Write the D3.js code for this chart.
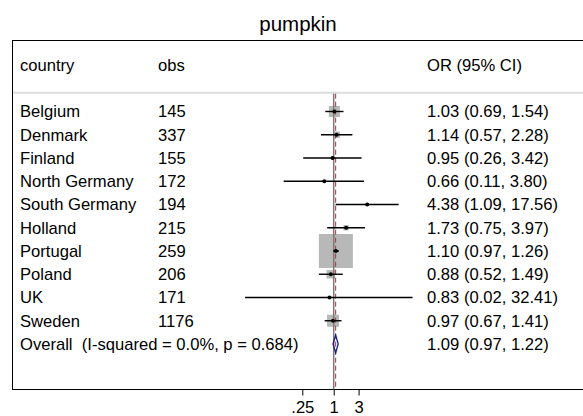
<!DOCTYPE html>
<html>
<head>
<meta charset="utf-8">
<script src="https://cdn.jsdelivr.net/npm/d3@7"></script>
<style>
  body { margin: 0; background: #fff; }
  text { font-family: "Liberation Sans", Arial, Helvetica, sans-serif; white-space: pre; }
</style>
</head>
<body>
<div id="chart"></div>
<script>
const countries = ["Belgium", "Denmark", "Finland", "North Germany", "South Germany",
    "Holland", "Portugal", "Poland", "UK", "Sweden"];
const obs = [145, 337, 155, 172, 194, 215, 259, 206, 171, 1176];
const or = [1.03, 1.14, 0.95, 0.66, 4.38, 1.73, 1.10, 0.88, 0.83, 0.97];
const lower = [0.69, 0.57, 0.26, 0.11, 1.09, 0.75, 0.97, 0.52, 0.02, 0.67];
const upper = [1.54, 2.28, 3.42, 3.80, 17.56, 3.97, 1.26, 1.49, 32.41, 1.41];
const weights = [7.7, 2.6, 0.7, 0.4, 0.6, 1.8, 72.7, 4.5, 0.1, 9.0];
const overall = { label: "Overall  (I-squared = 0.0%, p = 0.684)", or: 1.09, lower: 0.97, upper: 1.22 };
const tickValues = [0.25, 1, 3];
const tickLabels = [".25", "1", "3"];

const W = 583, H = 416;
const box = { left: 12.5, top: 40.5, bottom: 389.5 };
const rowTop = 111.5, rowStep = 23.25;
const sepY = 92.7;
const fs = "16.6px";
const col = { country: 20, obs: 158, est: 427 };

const svg = d3.select("#chart").append("svg")
    .attr("width", W).attr("height", H);

const x = d3.scaleLog().domain([0.25, 3]).range([302.3, 358.6]);
const y = d3.scaleLinear().domain([0, 1]).range([rowTop, rowTop + rowStep]);
const size = d3.scaleSqrt().domain([0, 72.7]).range([0, 34]);

const fmt = d3.format(".2f");
const rows = countries.map((c, i) => ({
    country: c, obs: obs[i], or: or[i], lo: lower[i], hi: upper[i], w: weights[i], i
}));

// title
svg.append("text")
    .attr("x", 298).attr("y", 31)
    .attr("text-anchor", "middle")
    .style("font-size", "20.5px")
    .text("pumpkin");

// frame
svg.append("rect")
    .attr("x", box.left).attr("y", box.top)
    .attr("width", W + 10 - box.left).attr("height", box.bottom - box.top)
    .attr("fill", "none").attr("stroke", "#000").attr("stroke-width", 1);

// header separator
svg.append("line")
    .attr("x1", box.left + 0.5).attr("x2", W)
    .attr("y1", sepY).attr("y2", sepY)
    .attr("stroke", "#dcdcdc").attr("stroke-width", 2);

// headers
const head = svg.append("g").style("font-size", fs);
head.append("text").attr("x", col.country).attr("y", 70.5).text("country");
head.append("text").attr("x", col.obs).attr("y", 70.5).text("obs");
head.append("text").attr("x", col.est).attr("y", 70.5).text("OR (95% CI)");

// weight boxes
svg.selectAll("rect.wt")
    .data(rows)
    .enter().append("rect")
    .attr("class", "wt")
    .attr("x", d => x(d.or) - size(d.w) / 2)
    .attr("y", d => y(d.i) - size(d.w) / 2)
    .attr("width", d => size(d.w))
    .attr("height", d => size(d.w))
    .attr("fill", "#b8b8b8");

// null line
svg.append("line")
    .attr("x1", x(1)).attr("x2", x(1))
    .attr("y1", sepY + 1).attr("y2", box.bottom)
    .attr("stroke", "#7a7a7a").attr("stroke-width", 1.5);

// overall effect line
svg.append("line")
    .attr("x1", x(overall.or)).attr("x2", x(overall.or))
    .attr("y1", sepY + 1).attr("y2", box.bottom)
    .attr("stroke", "#a8323c").attr("stroke-width", 1)
    .attr("stroke-dasharray", "5,3");

// confidence intervals
svg.selectAll("line.ci")
    .data(rows)
    .enter().append("line")
    .attr("class", "ci")
    .attr("x1", d => x(d.lo)).attr("x2", d => x(d.hi))
    .attr("y1", d => y(d.i)).attr("y2", d => y(d.i))
    .attr("stroke", "#000").attr("stroke-width", 1.4);

// point estimates
svg.selectAll("circle.pt")
    .data(rows)
    .enter().append("circle")
    .attr("class", "pt")
    .attr("cx", d => x(d.or)).attr("cy", d => y(d.i))
    .attr("r", 2).attr("fill", "#000");

// overall diamond
const oy = y(countries.length);
svg.append("path")
    .attr("d", `M${x(overall.lower)},${oy} L${x(overall.or)},${oy - 9} L${x(overall.upper)},${oy} L${x(overall.or)},${oy + 9} Z`)
    .attr("fill", "none").attr("stroke", "#1a1a8c").attr("stroke-width", 1.3);

// text columns
const txt = svg.append("g").style("font-size", fs);
txt.selectAll("text.c").data(rows).enter().append("text")
    .attr("x", col.country).attr("y", d => y(d.i) + 5.8).text(d => d.country);
txt.selectAll("text.o").data(rows).enter().append("text")
    .attr("x", col.obs).attr("y", d => y(d.i) + 5.8).text(d => d.obs);
txt.selectAll("text.e").data(rows).enter().append("text")
    .attr("x", col.est).attr("y", d => y(d.i) + 5.8)
    .text(d => `${fmt(d.or)} (${fmt(d.lo)}, ${fmt(d.hi)})`);
txt.append("text").attr("x", col.country).attr("y", oy + 5.8).text(overall.label);
txt.append("text").attr("x", col.est).attr("y", oy + 5.8)
    .text(`${fmt(overall.or)} (${fmt(overall.lower)}, ${fmt(overall.upper)})`);

// x axis
const axis = svg.append("g")
    .attr("transform", `translate(0,${box.bottom})`)
    .call(d3.axisBottom(x).tickValues(tickValues)
        .tickFormat((d, i) => tickLabels[i]).tickSize(6).tickPadding(6));
axis.select(".domain").remove();
axis.selectAll(".tick line").attr("stroke", "#000");
axis.selectAll("text").style("font-size", fs)
    .style("font-family", "'Liberation Sans', Arial, sans-serif").attr("fill", "#000");
</script>
</body>
</html>
